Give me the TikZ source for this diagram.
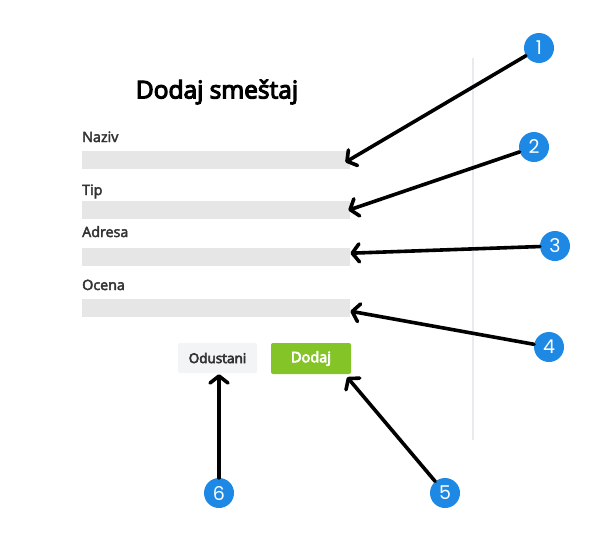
\documentclass[tikz,border=0pt]{standalone}
\usepackage{fontspec}
\setmainfont{Open Sans}
\newfontfamily\numfont{Poppins}
\newfontfamily\semifont{Open Sans}[FakeBold=4.5]
\newfontfamily\medfont{Open Sans}[FakeBold=3]
\usepackage{tikz}
\usetikzlibrary{arrows.meta}
\definecolor{FieldGray}{HTML}{E6E6E6}
\definecolor{BtnGray}{HTML}{F3F4F6}
\definecolor{BtnGreen}{HTML}{84C427}
\definecolor{MarkBlue}{HTML}{1E88E5}
\definecolor{RuleGray}{HTML}{E8EAF0}
\definecolor{LabelGray}{HTML}{333333}

\begin{document}
\begin{tikzpicture}[x=1pt, y=-1pt,
  field/.style={fill=FieldGray, inner sep=0pt, minimum width=268pt, minimum height=18pt},
  lbl/.style={anchor=base west, inner sep=0pt, text=LabelGray, font=\medfont\fontsize{14.3}{16}\selectfont},
  marker/.style={circle, fill=MarkBlue, inner sep=0pt, minimum size=30pt, text=white, font=\numfont\fontsize{19}{19}\selectfont},
  pointer/.style={line width=3.6pt, line cap=round, -{Straight Barb[length=7pt, width=18pt, line cap=round, line join=round]}}]
\useasboundingbox (0,0) rectangle (601,538);

\draw[RuleGray, line width=1.5pt] (473,58) -- (473,440);

\node[inner sep=0pt, font=\semifont\fontsize{24.5}{27}\selectfont] (title) at (217,92) {Dodaj smeštaj};

\node[lbl] (lnaziv) at (82,142) {Naziv};
\node[field, anchor=north west] (naziv) at (82,151) {};
\node[lbl] (ltip) at (82,195) {Tip};
\node[field, anchor=north west] (tip) at (82,201) {};
\node[lbl] (ladresa) at (82,237) {Adresa};
\node[field, anchor=north west] (adresa) at (82,248) {};
\node[lbl] (locena) at (82,290) {Ocena};
\node[field, anchor=north west] (ocena) at (82,299) {};

\node[rounded corners=2pt, fill=BtnGray, text=LabelGray, inner sep=0pt, minimum width=79pt, minimum height=30pt, font=\semifont\fontsize{13.5}{15}\selectfont] (odustani) at (217.5,358) {Odustani};
\node[rounded corners=2pt, fill=BtnGreen, text=white, inner sep=0pt, minimum width=80pt, minimum height=31pt, font=\semifont\fontsize{14.5}{16}\selectfont] (dodaj) at (311,358.5) {Dodaj};

\node[marker] (m1) at (539,48) {1};
\node[marker] (m2) at (534,147) {2};
\node[marker] (m3) at (555,246) {3};
\node[marker] (m4) at (549,347) {4};
\node[marker] (m5) at (445,493) {5};
\node[marker] (m6) at (219,493) {6};

\draw[pointer] (m1) -- ([xshift=-5pt, yshift=-2pt]naziv.east);
\draw[pointer] (m2) -- ([xshift=-2pt]tip.east);
\draw[pointer] (m3) -- ([yshift=4pt]adresa.east);
\draw[pointer] (m4) -- ([yshift=-3pt]ocena.east);
\draw[pointer] (m5) -- ([xshift=-4pt, yshift=-3pt]dodaj.south east);
\draw[pointer] (m6) -- ([xshift=1.5pt, yshift=-1pt]odustani.south);

\end{tikzpicture}
\end{document}
